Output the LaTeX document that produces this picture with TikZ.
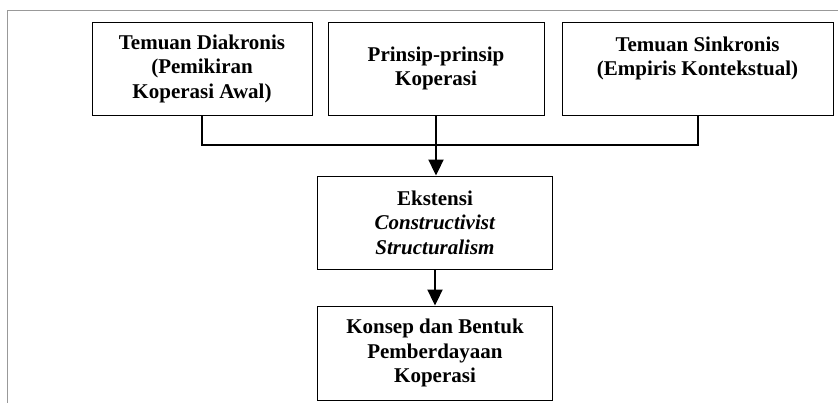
\documentclass[tikz,border=0pt]{standalone}
\usepackage{fontspec}
\setmainfont{Liberation Serif}
\usetikzlibrary{arrows.meta}

\tikzset{
  kotak/.style={draw, line width=0.9pt, align=center, inner sep=0pt,
    minimum height=93pt, font=\fontsize{21}{24.5}\selectfont\bfseries,
    execute at begin node=\rule{0pt}{24.5pt}},
  garis/.style={line width=2pt},
  panah/.style={line width=2pt, -{Triangle[length=16pt,width=15pt]}},
}

\begin{document}
\begin{tikzpicture}[x=1pt, y=-1pt]
        \useasboundingbox (0,0) rectangle (838,403);
        \draw[color = gray!80, line width=1pt] (7,403) -- (7,11) -- (838,11);
        \node[kotak, minimum width=220pt] (diakronis) at (202,68.5) {Temuan Diakronis\\(Pemikiran\\Koperasi Awal)};
        \node[kotak, minimum width=216pt] (prinsip) at (436,68.5) {Prinsip-prinsip\\Koperasi};
        \node[kotak, minimum width=271pt] (sinkronis) at (697.5,68.5) {Temuan Sinkronis\\(Empiris Kontekstual)\\\mbox{}};
        \node[kotak, minimum width=235pt] (ekstensi) at (435,222.5) {Ekstensi\\\textit{Constructivist}\\\textit{Structuralism}};
        \node[kotak, minimum width=235pt, minimum height=94pt] (konsep) at (435,353) {Konsep dan Bentuk\\Pemberdayaan\\Koperasi};
        \coordinate (simpang) at (436,145);
        \draw[garis] (diakronis.south) |- (simpang) -| (sinkronis.south);
        \draw[panah] (prinsip.south) -- (prinsip.south |- ekstensi.north);
        \draw[panah] (ekstensi.south) -- (konsep.north);
\end{tikzpicture}
\end{document}
